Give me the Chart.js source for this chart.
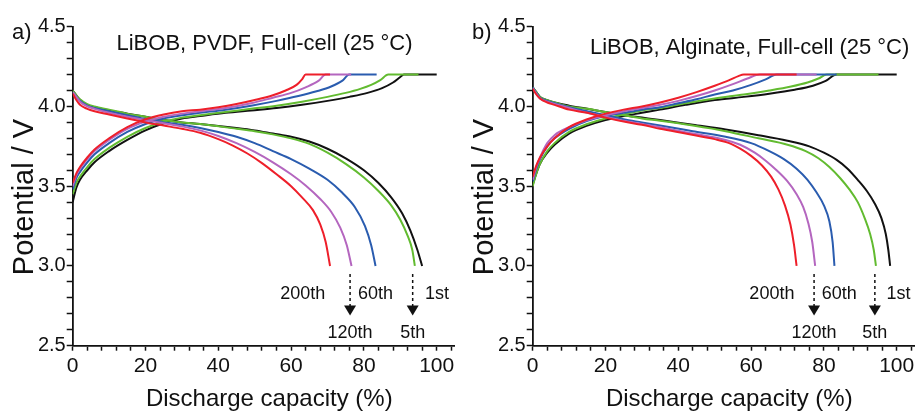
<!DOCTYPE html>
<html>
<head>
<meta charset="utf-8">
<script src="https://cdn.jsdelivr.net/npm/chart.js@4.4.1/dist/chart.umd.min.js"></script>
<style>
  html, body { margin: 0; padding: 0; background: #fff; }
  #wrap { position: relative; width: 919px; height: 413px; overflow: hidden; }
  .panel { position: absolute; top: 0; height: 413px; }
</style>
</head>
<body>
<div id="wrap">
  <div class="panel" style="left:0;width:460px"><canvas id="pvdfChart" width="460" height="413"></canvas></div>
  <div class="panel" style="left:460px;width:459px"><canvas id="alginateChart" width="459" height="413"></canvas></div>
</div>
<script>
const cycles = ['1st', '5th', '60th', '120th', '200th'];
const cycleColors = ['#111111', '#62bb30', '#2a5caf', '#b466bf', '#ee1f2a'];
const xTickLabels = [0, 20, 40, 60, 80, 100];
const yTickLabels = ['2.5', '3.0', '3.5', '4.0', '4.5'];

// a) LiBOB, PVDF - charge curves [capacity %, V]
const pvdfCharge1st = [[0,3.40],[1,3.49],[2,3.54],[4,3.60],[6,3.65],[10,3.72],[15,3.79],[20,3.85],[25,3.895],[30,3.925],[35,3.94],[42,3.96],[49,3.975],[56,3.99],[63,4.01],[70,4.035],[76,4.06],[81,4.085],[85,4.115],[88,4.15],[90,4.185],[91,4.20],[100,4.20]];
const pvdfCharge5th = [[0,3.45],[1,3.52],[2,3.56],[4,3.62],[6,3.67],[10,3.74],[15,3.81],[20,3.865],[25,3.905],[30,3.93],[35,3.945],[42,3.965],[49,3.985],[56,4.005],[63,4.03],[70,4.06],[75,4.085],[79,4.11],[82,4.135],[84.5,4.165],[86.7,4.20],[95,4.20]];
const pvdfCharge60th = [[0,3.48],[1,3.55],[2,3.59],[4,3.65],[6,3.70],[10,3.77],[15,3.84],[20,3.89],[25,3.925],[30,3.945],[35,3.96],[42,3.98],[49,4.005],[56,4.035],[62,4.065],[67,4.095],[71,4.125],[74,4.16],[76,4.20],[83.5,4.20]];
const pvdfCharge120th = [[0,3.50],[1,3.57],[2,3.61],[4,3.67],[6,3.72],[10,3.79],[15,3.86],[20,3.905],[25,3.935],[30,3.955],[35,3.97],[42,3.99],[49,4.02],[55,4.055],[60,4.085],[64,4.12],[67.5,4.16],[69.5,4.20],[76.5,4.20]];
const pvdfCharge200th = [[0,3.52],[1,3.58],[2,3.62],[4,3.68],[6,3.73],[10,3.80],[15,3.87],[20,3.92],[25,3.95],[30,3.97],[35,3.98],[40,3.995],[45,4.015],[50,4.04],[55,4.07],[58.5,4.10],[61.5,4.135],[63,4.17],[64,4.20],[70.7,4.20]];

// a) LiBOB, PVDF - discharge curves
const pvdfDischarge1st = [[0,4.10],[1,4.07],[2,4.04],[4,4.01],[6,3.995],[10,3.975],[15,3.955],[20,3.935],[25,3.915],[30,3.90],[35,3.89],[45,3.865],[50,3.85],[55,3.83],[60,3.81],[65,3.78],[70,3.735],[75,3.675],[80,3.60],[84,3.52],[87.5,3.43],[90.5,3.33],[92.8,3.22],[94.7,3.10],[96,3.00]];
const pvdfDischarge5th = [[0,4.10],[1,4.07],[2,4.045],[4,4.015],[6,4.0],[10,3.98],[15,3.955],[20,3.935],[25,3.915],[30,3.90],[35,3.89],[45,3.86],[50,3.845],[55,3.825],[60,3.80],[65,3.765],[70,3.71],[75,3.64],[80,3.555],[84,3.47],[87.5,3.38],[90,3.29],[92,3.19],[93.3,3.10],[94,3.00]];
const pvdfDischarge60th = [[0,4.09],[1,4.06],[2,4.035],[4,4.005],[6,3.99],[10,3.97],[15,3.945],[20,3.92],[25,3.90],[30,3.885],[35,3.865],[40,3.84],[45,3.81],[50,3.77],[55,3.72],[60,3.67],[65,3.61],[70,3.54],[74,3.46],[77.5,3.37],[80.3,3.25],[82,3.13],[83.2,3.00]];
const pvdfDischarge120th = [[0,4.09],[1,4.06],[2,4.03],[4,4.0],[6,3.985],[10,3.96],[15,3.935],[20,3.915],[25,3.895],[30,3.875],[35,3.85],[40,3.815],[45,3.77],[50,3.715],[55,3.65],[60,3.575],[64,3.505],[68,3.42],[71,3.34],[73.5,3.24],[75.3,3.13],[76.6,3.00]];
const pvdfDischarge200th = [[0,4.08],[1,4.04],[2,4.01],[4,3.985],[6,3.97],[10,3.95],[15,3.925],[20,3.90],[25,3.88],[30,3.86],[35,3.835],[40,3.795],[44,3.755],[48,3.705],[52,3.645],[56,3.575],[60,3.50],[63,3.43],[66,3.35],[68,3.26],[69.5,3.15],[70.7,3.00]];

// b) LiBOB, Alginate - charge curves
const algCharge1st = [[0,3.51],[1,3.58],[2,3.64],[4,3.71],[6,3.76],[10,3.83],[15,3.88],[20,3.915],[25,3.94],[30,3.96],[35,3.98],[42,4.01],[50,4.04],[58,4.06],[65,4.08],[72,4.105],[77,4.13],[80.5,4.16],[83.5,4.20],[100,4.20]];
const algCharge5th = [[0,3.50],[1,3.58],[2,3.64],[4,3.72],[6,3.77],[10,3.84],[15,3.89],[20,3.925],[25,3.95],[30,3.975],[35,3.99],[42,4.02],[50,4.05],[58,4.075],[65,4.10],[71,4.125],[75.5,4.15],[78.5,4.175],[80.8,4.20],[95,4.20]];
const algCharge60th = [[0,3.53],[1,3.61],[2,3.67],[4,3.75],[6,3.80],[10,3.86],[15,3.91],[20,3.94],[25,3.96],[30,3.98],[35,3.995],[40,4.02],[45,4.045],[50,4.075],[55,4.10],[60,4.135],[64,4.17],[67,4.20],[83.5,4.20]];
const algCharge120th = [[0,3.54],[1,3.62],[2,3.68],[4,3.77],[6,3.82],[10,3.87],[15,3.915],[20,3.945],[25,3.97],[30,3.99],[35,4.01],[40,4.035],[45,4.065],[50,4.10],[55,4.14],[59,4.175],[62.4,4.20],[78,4.20]];
const algCharge200th = [[0,3.56],[1,3.63],[2,3.68],[4,3.75],[6,3.80],[10,3.87],[15,3.92],[20,3.955],[25,3.98],[30,4.0],[35,4.025],[40,4.055],[45,4.09],[50,4.13],[54,4.165],[56.5,4.19],[58,4.20],[72.5,4.20]];

// b) LiBOB, Alginate - discharge curves
const algDischarge1st = [[0,4.12],[1,4.09],[2,4.06],[4,4.04],[6,4.025],[10,4.005],[15,3.985],[20,3.965],[25,3.945],[30,3.93],[35,3.915],[44,3.885],[53,3.855],[62,3.82],[70,3.785],[76,3.75],[80,3.71],[83.5,3.665],[86.5,3.61],[89.3,3.54],[91.8,3.47],[94,3.39],[95.8,3.30],[97,3.20],[97.7,3.10],[98.2,3.00]];
const algDischarge5th = [[0,4.12],[1,4.09],[2,4.06],[4,4.04],[6,4.025],[10,4.0],[15,3.985],[20,3.965],[25,3.945],[30,3.925],[35,3.91],[44,3.88],[53,3.845],[62,3.80],[70,3.76],[75,3.72],[78.5,3.675],[81.5,3.62],[84.5,3.55],[87,3.48],[89.3,3.40],[91.2,3.30],[92.7,3.20],[93.7,3.10],[94.3,3.00]];
const algDischarge60th = [[0,4.12],[1,4.085],[2,4.055],[4,4.035],[6,4.02],[10,3.995],[15,3.97],[20,3.945],[25,3.92],[30,3.90],[35,3.88],[44,3.845],[53,3.81],[60,3.77],[65,3.72],[69,3.67],[72.5,3.61],[75.5,3.54],[78,3.46],[80,3.38],[81.5,3.28],[82.4,3.15],[82.9,3.00]];
const algDischarge120th = [[0,4.115],[1,4.08],[2,4.05],[4,4.03],[6,4.015],[10,3.99],[15,3.96],[20,3.935],[25,3.91],[30,3.89],[35,3.87],[44,3.83],[53,3.79],[57,3.76],[61,3.71],[64,3.66],[67,3.60],[70,3.53],[72.5,3.45],[74.3,3.37],[75.7,3.27],[76.8,3.15],[77.6,3.00]];
const algDischarge200th = [[0,4.11],[1,4.075],[2,4.05],[4,4.025],[6,4.01],[10,3.98],[15,3.96],[20,3.93],[25,3.905],[30,3.885],[35,3.86],[42,3.83],[50,3.795],[54,3.77],[57,3.735],[60,3.69],[63,3.63],[65.5,3.56],[67.5,3.48],[69.3,3.38],[70.8,3.26],[71.8,3.13],[72.5,3.00]];

const FONT = '"Liberation Sans", Arial, sans-serif';

// tick positions: minor every 4 % and every 0.1 V
const xTickValues = [];
for (let v = 0; v <= 104; v += 4) xTickValues.push(v);
const yTickValues = [];
for (let v = 25; v <= 45; v++) yTickValues.push(v / 10);

function toPoints(pairs) {
  return pairs.map(p => ({ x: p[0], y: p[1] }));
}

function makeDatasets(chargeList, dischargeList) {
  const sets = [];
  cycles.forEach((name, i) => {
    [chargeList[i], dischargeList[i]].forEach((curve, k) => {
      sets.push({
        label: name + (k === 0 ? ' charge' : ' discharge'),
        data: toPoints(curve),
        showLine: true,
        borderColor: cycleColors[i],
        backgroundColor: cycleColors[i],
        borderWidth: 2,
        pointRadius: 0,
        cubicInterpolationMode: 'monotone',
        order: cycles.length - i
      });
    });
  });
  return sets;
}

function drawArrow(ctx, x, yTop, yBottom) {
  ctx.save();
  ctx.strokeStyle = '#111';
  ctx.fillStyle = '#111';
  ctx.lineWidth = 1.5;
  ctx.setLineDash([3, 3]);
  ctx.beginPath();
  ctx.moveTo(x, yTop);
  ctx.lineTo(x, yBottom - 9);
  ctx.stroke();
  ctx.setLineDash([]);
  ctx.beginPath();
  ctx.moveTo(x - 6, yBottom - 10);
  ctx.lineTo(x + 6, yBottom - 10);
  ctx.lineTo(x, yBottom);
  ctx.closePath();
  ctx.fill();
  ctx.restore();
}

// draws panel letter, title, axis titles and the cycle labels / arrows
function overlayPlugin(opts) {
  return {
    id: 'overlay',
    afterDraw(chart) {
      const ctx = chart.ctx;
      const xs = chart.scales.x;
      const ys = chart.scales.y;
      ctx.save();
      ctx.fillStyle = '#111';
      ctx.textBaseline = 'alphabetic';

      ctx.font = '22px ' + FONT;
      ctx.textAlign = 'left';
      ctx.fillText(opts.letter, 12, 39);

      ctx.textAlign = 'center';
      ctx.fillText(opts.title, xs.getPixelForValue(opts.titleX), opts.titleBaseline);

      ctx.font = '24px ' + FONT;
      ctx.fillText('Discharge capacity (%)', xs.getPixelForValue(54), 406);

      ctx.save();
      ctx.font = '29px ' + FONT;
      ctx.translate(33, 197);
      ctx.rotate(-Math.PI / 2);
      ctx.fillText('Potential / V', 0, 0);
      ctx.restore();

      ctx.font = '18px ' + FONT;
      const upper = ys.getPixelForValue(2.79);
      const lower = ys.getPixelForValue(2.55);
      ctx.textAlign = 'right';
      ctx.fillText(cycles[4], xs.getPixelForValue(opts.label200), upper);
      ctx.textAlign = 'left';
      ctx.fillText(cycles[2], xs.getPixelForValue(opts.label60), upper);
      ctx.fillText(cycles[0], xs.getPixelForValue(opts.label1), upper);
      ctx.textAlign = 'center';
      ctx.fillText(cycles[3], xs.getPixelForValue(opts.arrows[0]), lower);
      ctx.fillText(cycles[1], xs.getPixelForValue(opts.arrows[1]), lower);

      opts.arrows.forEach(a => {
        drawArrow(ctx, xs.getPixelForValue(a), ys.getPixelForValue(2.95), ys.getPixelForValue(2.69));
      });
      ctx.restore();
    }
  };
}

function createChart(canvasId, datasets, opts) {
  const canvas = document.getElementById(canvasId);
  const rightPad = canvas.width - (72.7 + 105 * 3.64);
  new Chart(canvas, {
    type: 'scatter',
    data: { datasets: datasets },
    options: {
      responsive: false,
      animation: false,
      devicePixelRatio: 1,
      layout: { padding: { left: 0, top: 26.7, right: rightPad, bottom: 0 } },
      plugins: { legend: { display: false }, tooltip: { enabled: false } },
      scales: {
        x: {
          type: 'linear',
          min: 0,
          max: 105,
          afterBuildTicks: s => { s.ticks = xTickValues.map(v => ({ value: v })); },
          afterFit: s => { s.height = 413 - 345.7; },
          ticks: {
            autoSkip: false,
            maxRotation: 0,
            padding: 3,
            color: '#111',
            font: { family: FONT, size: 21 },
            callback: v => xTickLabels.includes(v) ? String(v) : ''
          },
          grid: { drawOnChartArea: false, tickLength: 5, tickColor: '#111', tickWidth: 1.5 },
          border: { display: true, color: '#111', width: 1.8 }
        },
        y: {
          type: 'linear',
          min: 2.5,
          max: 4.5,
          afterBuildTicks: s => { s.ticks = yTickValues.map(v => ({ value: v })); },
          afterFit: s => { s.width = 72.7; },
          ticks: {
            autoSkip: false,
            padding: 1,
            color: '#111',
            font: { family: FONT, size: 20 },
            callback: v => yTickLabels.includes(v.toFixed(1)) ? v.toFixed(1) : ''
          },
          grid: { drawOnChartArea: false, tickLength: 6, tickColor: '#111', tickWidth: 1.5 },
          border: { display: true, color: '#111', width: 1.8 }
        }
      }
    },
    plugins: [overlayPlugin(opts)]
  });
}

createChart(
  'pvdfChart',
  makeDatasets(
    [pvdfCharge1st, pvdfCharge5th, pvdfCharge60th, pvdfCharge120th, pvdfCharge200th],
    [pvdfDischarge1st, pvdfDischarge5th, pvdfDischarge60th, pvdfDischarge120th, pvdfDischarge200th]
  ),
  { letter: 'a)', title: 'LiBOB, PVDF, Full-cell (25 °C)', titleX: 52.7, titleBaseline: 50,
    label200: 69.4, label60: 78.4, label1: 96.8, arrows: [76.2, 93.4] }
);

createChart(
  'alginateChart',
  makeDatasets(
    [algCharge1st, algCharge5th, algCharge60th, algCharge120th, algCharge200th],
    [algDischarge1st, algDischarge5th, algDischarge60th, algDischarge120th, algDischarge200th]
  ),
  { letter: 'b)', title: 'LiBOB, Alginate, Full-cell (25 °C)', titleX: 59.6, titleBaseline: 54,
    label200: 71.9, label60: 79.4, label1: 97.2, arrows: [77.3, 94.0] }
);
</script>
</body>
</html>
